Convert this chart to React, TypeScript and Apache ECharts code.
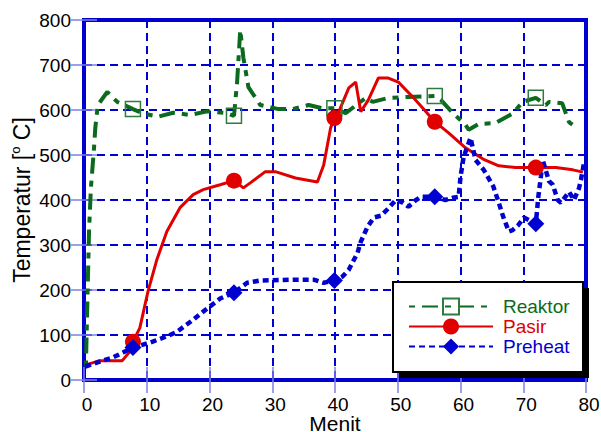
import React, { useEffect, useRef } from "react";
import * as echarts from "echarts";

const FONT = "'Liberation Sans', Arial, Helvetica, sans-serif";
const GREEN = "#0b6a1e";
const RED = "#e00000";
const BLUE = "#0000d0";
const AXIS_BLUE = "#0000cc";

const seriesNames = ["Reaktor", "Pasir", "Preheat"];
const markerMinutes = [7.8, 23.9, 39.9, 55.9, 72.0];

const reaktorMinutes = [
  0.3, 0.5, 0.8, 1.1, 1.6, 1.8, 2.2, 3.7, 5.3, 7.8, 9.5, 11.8, 14.2, 16.9, 19.6, 22.8,
  23.9, 24.4, 24.9, 25.4, 26.2, 28.1, 31, 33.2, 35.8, 38, 39.9, 41.7, 44.9, 46, 48.5,
  51.7, 55.9, 56.9, 58.8, 60.8, 61.3, 62.9, 65.6, 68.4, 69.9, 72.0, 73.6, 74.1, 76.2,
  77.3, 78.4,
];
const reaktorTemps = [
  30, 150, 330, 427, 516, 560, 611, 640, 618, 602, 592, 585, 594, 589, 597, 593,
  587, 662, 778, 716, 651, 611, 602, 602, 611, 604, 604, 593, 627, 618, 627,
  629, 631, 622, 593, 567, 556, 569, 571, 593, 618, 627, 611, 618, 615,
  573, 562,
];

const pasirMinutes = [
  0.2, 2.5, 6.1, 7.3, 7.8, 8.9, 10.2, 11.6, 13.2, 15.3, 17.4, 19.0, 21.7, 23.9, 25.4,
  26.5, 28.9, 30.5, 33.7, 37.2, 38.2, 39.3, 39.9, 40.6, 42.2, 43.3, 44.1, 45.3, 46.9,
  48.5, 50.1, 52.4, 53.3, 54.5, 55.9, 58.1, 60.8, 63.6, 66.1, 68.8, 72.0, 75.2, 77.9,
  79.5,
];
const pasirTemps = [
  33, 43, 43, 63, 85, 116, 197, 267, 330, 383, 412, 423, 434, 443, 427,
  438, 463, 463, 449, 440, 478, 560, 582, 596, 649, 662, 596, 622, 671,
  671, 662, 629, 615, 596, 574, 549, 516, 491, 476, 472, 472, 472, 467,
  462,
];

const preheatMinutes = [
  0.2, 2.5, 4.6, 6.2, 7.8, 10.5, 13.2, 14.8, 17.4, 19.0, 21.7, 23.9, 26.0, 28.1, 33.4,
  36.6, 38.2, 39.9, 41.2, 42.2, 43.6, 44.1, 45.2, 46.2, 47.3, 48.4, 49.7, 50.8, 51.7,
  52.9, 53.7, 55.9, 57.6, 58.8, 59.7, 60.0, 60.5, 61.6, 62.4, 63.7, 65.2, 66.1, 66.8,
  67.7, 68.3, 69.2, 70.1, 72.0, 72.4, 72.8, 73.1, 74.1, 74.7, 75.5, 76.0, 77.3, 78.1,
  78.9, 79.2, 79.7,
];
const preheatTemps = [
  30, 41, 50, 61, 72, 83, 97, 107, 134, 152, 181, 194, 216, 221, 223,
  223, 216, 221, 230, 245, 283, 307, 341, 361, 365, 380, 400, 394, 385,
  400, 407, 407, 400, 405, 407, 451, 496, 538, 489, 467, 431, 394, 363,
  330, 333, 344, 361, 347, 407, 451, 489, 442, 434, 400, 394, 418, 400,
  427, 445, 484,
];

function buildData(xs: number[], ys: number[]) {
  return xs.map((x, i) =>
    markerMinutes.includes(x)
      ? { value: [x, ys[i]] }
      : { value: [x, ys[i]], symbol: "none" }
  );
}

export default function App() {
  const ref = useRef<HTMLDivElement>(null);

  useEffect(() => {
    document.body.style.margin = "0";
    if (!ref.current) return;
    const chart = echarts.init(ref.current, null, { renderer: "svg" });

    const tickStyle = { show: true, inside: true, length: 13, lineStyle: { color: "#7f7fe8", width: 1.5 } };

    chart.setOption({
      animation: false,
      backgroundColor: "#ffffff",
      textStyle: { fontFamily: FONT },
      grid: {
        left: 84,
        right: 15,
        top: 20,
        bottom: 52,
        containLabel: false,
        outerBoundsMode: "none",
        show: true,
        borderColor: AXIS_BLUE,
        borderWidth: 4,
        backgroundColor: "transparent",
      },
      xAxis: [
        {
          type: "value",
          min: 0,
          max: 80,
          interval: 10,
          name: "Menit",
          nameLocation: "middle",
          nameGap: 35.5,
          nameMoveOverlap: false,
          nameTextStyle: { fontSize: 21, lineHeight: 16, color: "#000", fontFamily: FONT },
          axisLine: { show: false },
          axisTick: tickStyle,
          axisLabel: { fontSize: 19, lineHeight: 15, color: "#000", margin: 17, fontFamily: FONT, padding: [0, 0, 0, 6] },
          splitLine: { show: true, lineStyle: { color: BLUE, width: 2, type: [8, 5] } },
        },
        {
          type: "value",
          position: "top",
          min: 0,
          max: 80,
          interval: 10,
          axisLine: { show: false },
          axisTick: tickStyle,
          axisLabel: { show: false },
          splitLine: { show: false },
        },
      ],
      yAxis: [
        {
          type: "value",
          min: 0,
          max: 800,
          interval: 100,
          name: "Temperatur [{sup|o} C]",
          nameLocation: "middle",
          nameGap: 49,
          nameMoveOverlap: false,
          nameTextStyle: {
            fontSize: 23,
            color: "#000",
            fontFamily: FONT,
            lineHeight: 26,
            rich: {
              sup: { fontSize: 13, lineHeight: 13, verticalAlign: "top", fontFamily: FONT, color: "#000" },
            },
          },
          axisLine: { show: false },
          axisTick: tickStyle,
          axisLabel: { fontSize: 19, color: "#000", margin: 13, fontFamily: FONT },
          splitLine: { show: true, lineStyle: { color: BLUE, width: 2, type: [8, 5] } },
        },
        {
          type: "value",
          position: "right",
          min: 0,
          max: 800,
          interval: 100,
          axisLine: { show: false },
          axisTick: tickStyle,
          axisLabel: { show: false },
          splitLine: { show: false },
        },
      ],
      legend: {
        left: 408,
        top: 297,
        orient: "vertical",
        padding: 0,
        itemWidth: 84,
        itemHeight: 20,
        itemGap: 1,
        selectedMode: false,
        textStyle: { fontSize: 19, fontFamily: FONT, padding: [0, 0, 0, 5] },
        data: [
          { name: seriesNames[0], textStyle: { color: GREEN } },
          { name: seriesNames[1], textStyle: { color: RED } },
          { name: seriesNames[2], textStyle: { color: BLUE } },
        ],
        z: 6,
      },
      graphic: [
        { type: "rect", z: 3, shape: { x: 399, y: 288, width: 190, height: 90 }, style: { fill: "#000" } },
        { type: "rect", z: 3, shape: { x: 393, y: 282, width: 190, height: 90 }, style: { fill: "#fff", stroke: "#000", lineWidth: 2 } },
      ],
      series: [
        {
          name: seriesNames[0],
          type: "line",
          data: buildData(reaktorMinutes, reaktorTemps),
          symbol: "rect",
          symbolSize: 15,
          showSymbol: true,
          lineStyle: { color: GREEN, width: 4, type: [6, 7, 16, 7] },
          itemStyle: { color: "rgba(255,255,255,0)", borderColor: "#2f7a3e", borderWidth: 1.5 },
          z: 2,
        },
        {
          name: seriesNames[1],
          type: "line",
          data: buildData(pasirMinutes, pasirTemps),
          symbol: "circle",
          symbolSize: 16,
          showSymbol: true,
          lineStyle: { color: RED, width: 3 },
          itemStyle: { color: RED },
          z: 2,
        },
        {
          name: seriesNames[2],
          type: "line",
          data: buildData(preheatMinutes, preheatTemps),
          symbol: "diamond",
          symbolSize: 17,
          showSymbol: true,
          lineStyle: { color: BLUE, width: 4.5, type: [6, 4] },
          itemStyle: { color: BLUE },
          z: 2,
        },
      ],
    });

    return () => chart.dispose();
  }, []);

  return (
    <div
      ref={ref}
      style={{ position: "absolute", left: 0, top: 0, width: 601, height: 432 }}
    />
  );
}
